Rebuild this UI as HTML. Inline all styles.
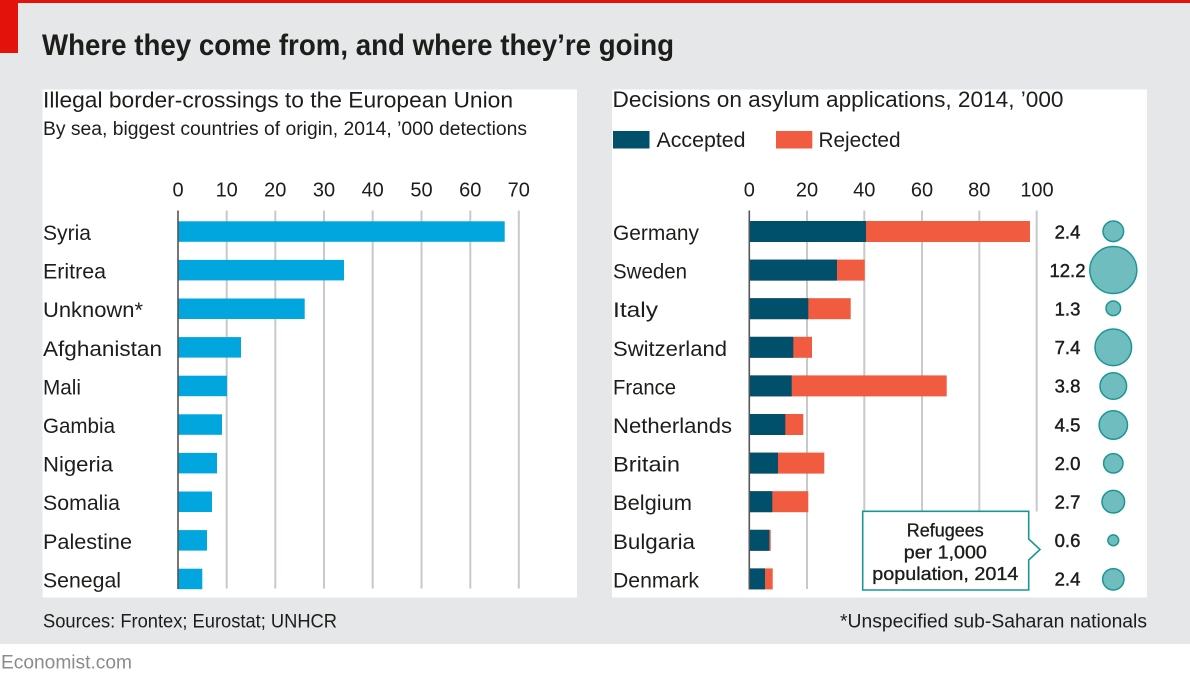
<!DOCTYPE html>
<html>
<head>
<meta charset="utf-8">
<style>
  html, body { margin: 0; padding: 0; background: #ffffff; }
  svg { display: block; }
  text { font-family: "Liberation Sans", "DejaVu Sans", sans-serif; fill: #1d1d1b; }
</style>
</head>
<body>
<svg width="1190" height="682" viewBox="0 0 1190 682" xmlns="http://www.w3.org/2000/svg">
  <!-- background -->
  <rect x="0" y="0" width="1190" height="644" fill="#e6e7e8"/>
  <rect x="0" y="0" width="1190" height="3" fill="#e3120b"/>
  <rect x="0" y="0" width="18" height="53" fill="#e3120b"/>

  <!-- Title -->
  <text x="42" y="55" font-size="30" font-weight="bold" textLength="632" lengthAdjust="spacingAndGlyphs">Where they come from, and where they’re going</text>

  <!-- panels -->
  <rect x="42.5" y="89.5" width="534.5" height="508" fill="#ffffff"/>
  <rect x="612" y="89.5" width="535" height="508" fill="#ffffff"/>

  <!-- LEFT PANEL -->
  <text x="43" y="107.5" font-size="22" textLength="470" lengthAdjust="spacingAndGlyphs">Illegal border-crossings to the European Union</text>
  <text x="43" y="135" font-size="19" textLength="484" lengthAdjust="spacingAndGlyphs">By sea, biggest countries of origin, 2014, ’000 detections</text>

  <!-- left gridlines -->
  <g stroke="#c8c9ca" stroke-width="2">
    <line x1="226.7" y1="210.5" x2="226.7" y2="588.5"/>
    <line x1="275.3" y1="210.5" x2="275.3" y2="588.5"/>
    <line x1="324" y1="210.5" x2="324" y2="588.5"/>
    <line x1="372.7" y1="210.5" x2="372.7" y2="588.5"/>
    <line x1="421.5" y1="210.5" x2="421.5" y2="588.5"/>
    <line x1="470.3" y1="210.5" x2="470.3" y2="588.5"/>
    <line x1="518.8" y1="210.5" x2="518.8" y2="588.5"/>
  </g>
  <!-- left tick labels -->
  <g font-size="20" text-anchor="middle">
    <text x="178" y="196.5">0</text>
    <text x="226.7" y="196.5">10</text>
    <text x="275.3" y="196.5">20</text>
    <text x="324" y="196.5">30</text>
    <text x="372.7" y="196.5">40</text>
    <text x="421.5" y="196.5">50</text>
    <text x="470.3" y="196.5">60</text>
    <text x="518.8" y="196.5">70</text>
  </g>
  <!-- left bars -->
  <g fill="#00a6dd">
    <rect x="178" y="221.3" width="326.7" height="20.5"/>
    <rect x="178" y="259.9" width="166" height="20.5"/>
    <rect x="178" y="298.5" width="126.7" height="20.5"/>
    <rect x="178" y="337.1" width="63" height="20.5"/>
    <rect x="178" y="375.7" width="49" height="20.5"/>
    <rect x="178" y="414.3" width="44" height="20.5"/>
    <rect x="178" y="452.9" width="39" height="20.5"/>
    <rect x="178" y="491.5" width="34" height="20.5"/>
    <rect x="178" y="530.1" width="29" height="20.5"/>
    <rect x="178" y="568.7" width="24.3" height="20.5"/>
  </g>
  <line x1="178" y1="210.5" x2="178" y2="589" stroke="#555555" stroke-width="1.6"/>
  <!-- left labels -->
  <g font-size="21">
    <text x="43" y="240" textLength="48" lengthAdjust="spacingAndGlyphs">Syria</text>
    <text x="43" y="278.6" textLength="63" lengthAdjust="spacingAndGlyphs">Eritrea</text>
    <text x="43" y="317.2" textLength="100" lengthAdjust="spacingAndGlyphs">Unknown*</text>
    <text x="43" y="355.8" textLength="119" lengthAdjust="spacingAndGlyphs">Afghanistan</text>
    <text x="43" y="394.4" textLength="38" lengthAdjust="spacingAndGlyphs">Mali</text>
    <text x="43" y="433" textLength="72" lengthAdjust="spacingAndGlyphs">Gambia</text>
    <text x="43" y="471.6" textLength="70" lengthAdjust="spacingAndGlyphs">Nigeria</text>
    <text x="43" y="510.2" textLength="77" lengthAdjust="spacingAndGlyphs">Somalia</text>
    <text x="43" y="548.8" textLength="89" lengthAdjust="spacingAndGlyphs">Palestine</text>
    <text x="43" y="587.4" textLength="78" lengthAdjust="spacingAndGlyphs">Senegal</text>
  </g>

  <!-- RIGHT PANEL -->
  <text x="612.5" y="107" font-size="22" textLength="451" lengthAdjust="spacingAndGlyphs">Decisions on asylum applications, 2014, ’000</text>
  <rect x="613" y="131" width="36.5" height="17.5" fill="#004f6b"/>
  <text x="656.5" y="147" font-size="21" textLength="89" lengthAdjust="spacingAndGlyphs">Accepted</text>
  <rect x="776" y="131" width="36.3" height="17.5" fill="#f15b40"/>
  <text x="818.5" y="147" font-size="21" textLength="82" lengthAdjust="spacingAndGlyphs">Rejected</text>

  <!-- right gridlines -->
  <g stroke="#c8c9ca" stroke-width="2">
    <line x1="807" y1="210.5" x2="807" y2="589"/>
    <line x1="864.3" y1="210.5" x2="864.3" y2="589"/>
    <line x1="922" y1="210.5" x2="922" y2="589"/>
    <line x1="979.3" y1="210.5" x2="979.3" y2="589"/>
    <line x1="1036.7" y1="210.5" x2="1036.7" y2="511.5"/>
  </g>
  <g font-size="20" text-anchor="middle">
    <text x="749.3" y="196.5">0</text>
    <text x="807" y="196.5">20</text>
    <text x="864.3" y="196.5">40</text>
    <text x="922" y="196.5">60</text>
    <text x="979.3" y="196.5">80</text>
    <text x="1037" y="196.5">100</text>
  </g>
  <!-- right bars: rejected (total) then accepted -->
  <g fill="#f15b40">
    <rect x="749.3" y="221" width="280.7" height="21"/>
    <rect x="749.3" y="259.6" width="115.4" height="21"/>
    <rect x="749.3" y="298.2" width="101.4" height="21"/>
    <rect x="749.3" y="336.8" width="62.7" height="21"/>
    <rect x="749.3" y="375.4" width="197.4" height="21"/>
    <rect x="749.3" y="414" width="54" height="21"/>
    <rect x="749.3" y="452.6" width="75" height="21"/>
    <rect x="749.3" y="491.2" width="59" height="21"/>
    <rect x="749.3" y="529.8" width="21.4" height="21"/>
    <rect x="749.3" y="568.4" width="23.4" height="21"/>
  </g>
  <g fill="#004f6b">
    <rect x="749.3" y="221" width="116.7" height="21"/>
    <rect x="749.3" y="259.6" width="87.7" height="21"/>
    <rect x="749.3" y="298.2" width="59" height="21"/>
    <rect x="749.3" y="336.8" width="44" height="21"/>
    <rect x="749.3" y="375.4" width="42.4" height="21"/>
    <rect x="749.3" y="414" width="36" height="21"/>
    <rect x="749.3" y="452.6" width="28.7" height="21"/>
    <rect x="749.3" y="491.2" width="23" height="21"/>
    <rect x="749.3" y="529.8" width="20" height="21"/>
    <rect x="749.3" y="568.4" width="15.7" height="21"/>
  </g>
  <line x1="749.3" y1="210.5" x2="749.3" y2="589.5" stroke="#555555" stroke-width="1.6"/>
  <!-- right labels -->
  <g font-size="21">
    <text x="613" y="240" textLength="86" lengthAdjust="spacingAndGlyphs">Germany</text>
    <text x="613" y="278.6" textLength="74" lengthAdjust="spacingAndGlyphs">Sweden</text>
    <text x="613" y="317.2" textLength="45" lengthAdjust="spacingAndGlyphs">Italy</text>
    <text x="613" y="355.8" textLength="114" lengthAdjust="spacingAndGlyphs">Switzerland</text>
    <text x="613" y="394.4" textLength="63" lengthAdjust="spacingAndGlyphs">France</text>
    <text x="613" y="433" textLength="119" lengthAdjust="spacingAndGlyphs">Netherlands</text>
    <text x="613" y="471.6" textLength="67" lengthAdjust="spacingAndGlyphs">Britain</text>
    <text x="613" y="510.2" textLength="79" lengthAdjust="spacingAndGlyphs">Belgium</text>
    <text x="613" y="548.8" textLength="82" lengthAdjust="spacingAndGlyphs">Bulgaria</text>
    <text x="613" y="587.4" textLength="86" lengthAdjust="spacingAndGlyphs">Denmark</text>
  </g>

  <!-- refugee values -->
  <g font-size="18.5" text-anchor="middle" stroke="#1d1d1b" stroke-width="0.45">
    <text x="1067.5" y="238.3">2.4</text>
    <text x="1067.5" y="276.9">12.2</text>
    <text x="1067.5" y="315.5">1.3</text>
    <text x="1067.5" y="354.1">7.4</text>
    <text x="1067.5" y="392.7">3.8</text>
    <text x="1067.5" y="431.3">4.5</text>
    <text x="1067.5" y="469.9">2.0</text>
    <text x="1067.5" y="508.5">2.7</text>
    <text x="1067.5" y="547.1">0.6</text>
    <text x="1067.5" y="585.7">2.4</text>
  </g>
  <!-- circles -->
  <g fill="#70bdbf" stroke="#1c9693" stroke-width="1.5">
    <circle cx="1113.3" cy="231.3" r="10.3"/>
    <circle cx="1113.3" cy="270" r="23.5"/>
    <circle cx="1113.3" cy="308.3" r="7.3"/>
    <circle cx="1113.3" cy="347.3" r="18.3"/>
    <circle cx="1113.3" cy="386" r="13.3"/>
    <circle cx="1113.3" cy="425" r="14.2"/>
    <circle cx="1113.3" cy="463.3" r="9.7"/>
    <circle cx="1113.3" cy="501.7" r="11.3"/>
    <circle cx="1113.3" cy="540.3" r="5.4"/>
    <circle cx="1113.3" cy="579.3" r="10.7"/>
  </g>

  <!-- callout -->
  <path d="M862.7,511.3 H1028.7 V539 L1040,549.5 L1028.7,560 V590 H862.7 Z" fill="#ffffff" stroke="#1c9693" stroke-width="1.6"/>
  <g font-size="18" text-anchor="middle" stroke="#1d1d1b" stroke-width="0.35">
    <text x="945.3" y="536.7" textLength="77" lengthAdjust="spacingAndGlyphs">Refugees</text>
    <text x="945.3" y="558.5" textLength="83" lengthAdjust="spacingAndGlyphs">per 1,000</text>
    <text x="945.3" y="580" textLength="146" lengthAdjust="spacingAndGlyphs">population, 2014</text>
  </g>

  <!-- footnotes -->
  <text x="43" y="627.3" font-size="19" textLength="294" lengthAdjust="spacingAndGlyphs">Sources: Frontex; Eurostat; UNHCR</text>
  <text x="840" y="627.3" font-size="19" textLength="307" lengthAdjust="spacingAndGlyphs">*Unspecified sub-Saharan nationals</text>

  <text x="1" y="668.3" font-size="19" textLength="131" lengthAdjust="spacingAndGlyphs" style="fill:#8c8c8c">Economist.com</text>
</svg>
</body>
</html>
